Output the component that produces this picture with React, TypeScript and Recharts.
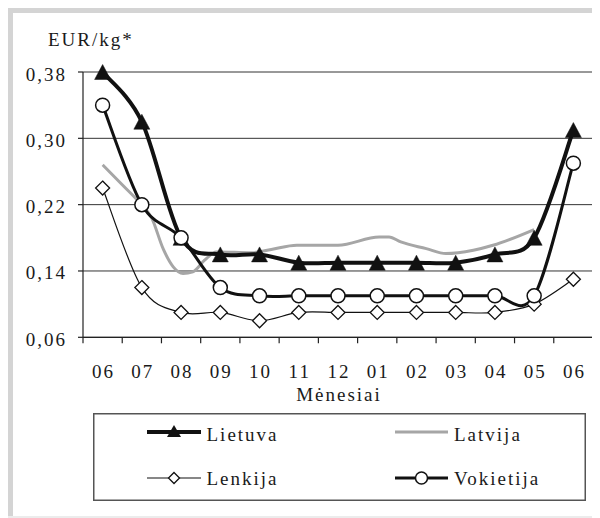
import React from 'react';
import { LineChart, Line, XAxis, YAxis, CartesianGrid, ReferenceLine } from 'recharts';

// ---- data ----
const months = ['06', '07', '08', '09', '10', '11', '12', '01', '02', '03', '04', '05', '06'];
const lietuva = [0.38, 0.32, 0.18, 0.16, 0.16, 0.15, 0.15, 0.15, 0.15, 0.15, 0.16, 0.18, 0.31];
const lenkija = [0.24, 0.12, 0.09, 0.09, 0.08, 0.09, 0.09, 0.09, 0.09, 0.09, 0.09, 0.10, 0.13];
const vokietija = [0.34, 0.22, 0.18, 0.12, 0.11, 0.11, 0.11, 0.11, 0.11, 0.11, 0.11, 0.11, 0.27];
const latvijaX = [0.5, 1.0, 1.45, 1.75, 2.05, 2.3, 2.55, 2.8, 3.1, 3.4, 4.3, 4.8, 5.45, 6.5, 7.55, 7.8, 8.1, 8.75, 9.25, 9.95, 10.45, 11.5];
const latvijaY = [0.268, 0.244, 0.222, 0.204, 0.166, 0.145, 0.137, 0.139, 0.153, 0.163, 0.162, 0.166, 0.171, 0.171, 0.181, 0.181, 0.175, 0.167, 0.161, 0.165, 0.171, 0.19];
const yTicks = [0.06, 0.14, 0.22, 0.3, 0.38];
const yTitle = 'EUR/kg*';
const xTitle = 'Mėnesiai';
const seriesNames = ['Lietuva', 'Latvija', 'Lenkija', 'Vokietija'];

const xTicks = months.map((_, i) => i).concat([months.length]);
const data = months.map((m, i) => ({
  x: i + 0.5,
  month: m,
  lietuva: lietuva[i],
  lenkija: lenkija[i],
  vokietija: vokietija[i],
}));
const latvijaData = latvijaX.map((x, i) => ({ x, latvija: latvijaY[i] }));

// ---- layout ----
const W = 592;
const H = 510;
const PLOT_LEFT = 75;
const PLOT_RIGHT = 585;
const PLOT_W = PLOT_RIGHT - PLOT_LEFT;
const HALF_BAND = PLOT_W / months.length / 2;
const FONT = 'Liberation Serif, Times New Roman, serif';
const TXT = '#1a1a1a';
const LS = 2;
const FS = 19;
const textStyle: any = { fontFamily: FONT, fontSize: FS, letterSpacing: LS, fill: TXT };

// Excel-like smoothed curve (Catmull-Rom as Bezier)
const excelCurve: any = (context: any) => {
  let pts: number[][] = [];
  return {
    areaStart() {},
    areaEnd() {},
    lineStart() {
      pts = [];
    },
    lineEnd() {
      const n = pts.length;
      if (!n) return;
      context.moveTo(pts[0][0], pts[0][1]);
      const t = 1 / 6;
      for (let i = 0; i < n - 1; i++) {
        const p0 = pts[Math.max(0, i - 1)];
        const p1 = pts[i];
        const p2 = pts[i + 1];
        const p3 = pts[Math.min(n - 1, i + 2)];
        context.bezierCurveTo(
          p1[0] + (p2[0] - p0[0]) * t,
          p1[1] + (p2[1] - p0[1]) * t,
          p2[0] - (p3[0] - p1[0]) * t,
          p2[1] - (p3[1] - p1[1]) * t,
          p2[0],
          p2[1]
        );
      }
    },
    point(x: number, y: number) {
      pts.push([+x, +y]);
    },
  };
};

const TriangleDot = (props: any) => {
  const { cx, cy, index } = props;
  if (cx == null || cy == null) return <g key={index} />;
  return (
    <polygon
      key={index}
      points={`${cx},${cy - 7.5} ${cx + 8},${cy + 7.5} ${cx - 8},${cy + 7.5}`}
      fill="#111"
      stroke="#111"
      strokeWidth={0.5}
    />
  );
};

const CircleDot = (props: any) => {
  const { cx, cy, index } = props;
  if (cx == null || cy == null) return <g key={index} />;
  return <circle key={index} cx={cx} cy={cy} r={7} fill="#fff" stroke="#111" strokeWidth={1.5} />;
};

const DiamondDot = (props: any) => {
  const { cx, cy, index } = props;
  if (cx == null || cy == null) return <g key={index} />;
  return (
    <polygon
      key={index}
      points={`${cx},${cy - 7} ${cx + 7},${cy} ${cx},${cy + 7} ${cx - 7},${cy}`}
      fill="#fff"
      stroke="#111"
      strokeWidth={1.3}
    />
  );
};

const XTick = (props: any) => {
  const { x, y, payload } = props;
  const i = Math.round(payload.value);
  if (i >= months.length) return <g />;
  return (
    <text x={x + HALF_BAND + LS / 2} y={y} dy={35} textAnchor="middle" style={textStyle}>
      {months[i]}
    </text>
  );
};

const YTick = (props: any) => {
  const { x, y, payload } = props;
  return (
    <text x={x} y={y} dy={8.5} textAnchor="end" style={textStyle}>
      {Number(payload.value).toFixed(2).replace('.', ',')}
    </text>
  );
};

const LegendIcon = ({ kind, x1, x2, y }: any) => {
  const cx = (x1 + x2) / 2;
  if (kind === 0)
    return (
      <g>
        <line x1={x1} x2={x2} y1={y} y2={y} stroke="#111" strokeWidth={4} />
        <polygon points={`${cx},${y - 7} ${cx + 7},${y + 5} ${cx - 7},${y + 5}`} fill="#111" />
      </g>
    );
  if (kind === 1) return <line x1={x1} x2={x2} y1={y} y2={y} stroke="#a6a6a6" strokeWidth={3} />;
  if (kind === 2)
    return (
      <g>
        <line x1={x1} x2={x2} y1={y} y2={y} stroke="#111" strokeWidth={1.2} />
        <polygon points={`${cx},${y - 5.5} ${cx + 5.5},${y} ${cx},${y + 5.5} ${cx - 5.5},${y}`} fill="#fff" stroke="#111" strokeWidth={1.3} />
      </g>
    );
  return (
    <g>
      <line x1={x1} x2={x2} y1={y} y2={y} stroke="#111" strokeWidth={3} />
      <circle cx={cx} cy={y} r={6} fill="#fff" stroke="#111" strokeWidth={1.5} />
    </g>
  );
};

const Overlay = () => {
  const lx = 85;
  const ly = 405;
  const cols = [
    { ix1: 54, ix2: 108, tx: 113.5 },
    { ix1: 302, ix2: 355, tx: 361 },
  ];
  const rows = [
    { ly: 19, ty: 27.5 },
    { ly: 65, ty: 71.5 },
  ];
  return (
    <svg width={W} height={H} style={{ position: 'absolute', left: 0, top: 0, pointerEvents: 'none' }}>
      <text x={40} y={38} style={textStyle}>
        {yTitle}
      </text>
      <text x={(PLOT_LEFT + PLOT_RIGHT) / 2 + LS / 2} y={393} textAnchor="middle" style={textStyle}>
        {xTitle}
      </text>
      <g transform={`translate(${lx},${ly})`}>
        <rect x={0.75} y={0.75} width={491.5} height={86.5} fill="#fff" stroke="#555" strokeWidth={1.5} />
        {seriesNames.map((name, k) => {
          const c = cols[k % 2];
          const r = rows[Math.floor(k / 2)];
          return (
            <g key={name}>
              <LegendIcon kind={k} x1={c.ix1} x2={c.ix2} y={r.ly} />
              <text x={c.tx} y={r.ty} style={textStyle}>
                {name}
              </text>
            </g>
          );
        })}
      </g>
    </svg>
  );
};

export default function App() {
  return (
    <div style={{ position: 'relative', width: W, height: H, background: '#fff', overflow: 'hidden', fontFamily: FONT }}>
      <div style={{ position: 'absolute', left: 0, top: 0, width: 5, height: H, background: '#d4d4d4' }} />
      <div style={{ position: 'absolute', left: 0, top: 0, width: W, height: 5, background: '#d4d4d4' }} />
      <div style={{ position: 'absolute', left: 0, top: H - 2, width: W, height: 2, background: '#ececec' }} />
      <div style={{ position: 'absolute', left: 0, top: 0 }}>
        <LineChart width={W} height={H} data={data} margin={{ top: 64, right: W - PLOT_RIGHT, left: 15, bottom: 110.7 }}>
          <CartesianGrid vertical={false} stroke="#333" strokeWidth={1} />
          <XAxis
            type="number"
            dataKey="x"
            domain={[0, months.length]}
            ticks={xTicks}
            interval={0}
            height={70}
            tickSize={6}
            tickMargin={0}
            tick={<XTick />}
            axisLine={{ stroke: '#222', strokeWidth: 1.2 }}
            tickLine={{ stroke: '#222', strokeWidth: 1.2 }}
            allowDecimals={false}
          />
          <YAxis
            type="number"
            domain={[0.06, 0.38]}
            ticks={yTicks}
            interval={0}
            width={60}
            tickSize={5}
            tickMargin={11}
            tick={<YTick />}
            axisLine={{ stroke: '#222', strokeWidth: 1.2 }}
            tickLine={{ stroke: '#222', strokeWidth: 1.2 }}
          />
          <ReferenceLine x={months.length} stroke="#888" strokeWidth={1.2} />
          <Line
            data={latvijaData}
            dataKey="latvija"
            type="monotone"
            stroke="#a6a6a6"
            strokeWidth={3}
            dot={false}
            activeDot={false}
            isAnimationActive={false}
          />
          <Line
            dataKey="lenkija"
            type={excelCurve}
            stroke="#111"
            strokeWidth={1.2}
            dot={DiamondDot}
            activeDot={false}
            isAnimationActive={false}
          />
          <Line
            dataKey="lietuva"
            type={excelCurve}
            stroke="#111"
            strokeWidth={4}
            dot={TriangleDot}
            activeDot={false}
            isAnimationActive={false}
          />
          <Line
            dataKey="vokietija"
            type={excelCurve}
            stroke="#111"
            strokeWidth={3}
            dot={CircleDot}
            activeDot={false}
            isAnimationActive={false}
          />
        </LineChart>
      </div>
      <Overlay />
    </div>
  );
}
